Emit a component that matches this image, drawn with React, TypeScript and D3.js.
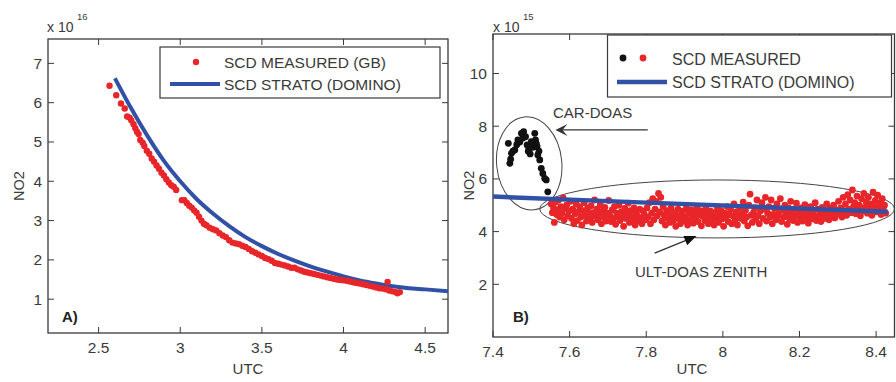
import React from "react";
import * as d3 from "d3";

// ---------- Panel A data (NO2 x 1e16 vs UTC) ----------
const measuredA: [number, number][] = [
  [2.567, 6.43], [2.608, 6.19], [2.637, 5.98], [2.66, 5.85], [2.675, 5.65], [2.69, 5.62], [2.7, 5.55],
  [2.714, 5.45], [2.725, 5.35], [2.735, 5.26], [2.745, 5.2], [2.755, 5.05], [2.77, 4.98], [2.78, 4.9],
  [2.795, 4.78], [2.81, 4.7], [2.825, 4.58], [2.84, 4.5], [2.855, 4.4], [2.87, 4.32], [2.885, 4.22],
  [2.9, 4.15], [2.915, 4.05], [2.93, 3.97], [2.945, 3.9], [2.96, 3.86], [2.975, 3.78], [3.01, 3.52],
  [3.025, 3.52], [3.04, 3.45], [3.055, 3.38], [3.07, 3.33], [3.085, 3.26], [3.1, 3.2], [3.115, 3.1],
  [3.13, 3.0], [3.145, 2.92], [3.16, 2.88], [3.18, 2.82], [3.2, 2.78], [3.22, 2.75], [3.24, 2.68],
  [3.26, 2.62], [3.28, 2.58], [3.3, 2.5], [3.32, 2.44], [3.34, 2.42], [3.36, 2.4], [3.38, 2.36],
  [3.4, 2.33], [3.42, 2.28], [3.44, 2.22], [3.46, 2.18], [3.48, 2.14], [3.5, 2.1], [3.52, 2.05],
  [3.54, 2.02], [3.56, 1.98], [3.58, 1.92], [3.6, 1.9], [3.62, 1.88], [3.64, 1.86], [3.66, 1.83],
  [3.68, 1.8], [3.7, 1.8], [3.72, 1.76], [3.74, 1.73], [3.76, 1.7], [3.78, 1.68], [3.8, 1.66],
  [3.82, 1.64], [3.84, 1.62], [3.86, 1.6], [3.88, 1.58], [3.9, 1.56], [3.92, 1.54], [3.94, 1.52],
  [3.96, 1.5], [3.98, 1.49], [4.0, 1.48], [4.02, 1.47], [4.04, 1.45], [4.06, 1.43], [4.08, 1.41],
  [4.1, 1.4], [4.12, 1.38], [4.14, 1.36], [4.16, 1.34], [4.18, 1.32], [4.2, 1.3], [4.22, 1.28],
  [4.24, 1.27], [4.26, 1.25], [4.27, 1.44], [4.28, 1.22], [4.3, 1.2], [4.32, 1.18], [4.33, 1.15],
  [4.345, 1.18],
];
const stratoA: [number, number][] = [
  [2.6, 6.62], [2.7, 5.85], [2.8, 5.15], [2.9, 4.52], [3.0, 4.0], [3.1, 3.55], [3.2, 3.18],
  [3.3, 2.86], [3.4, 2.58], [3.5, 2.35], [3.6, 2.15], [3.7, 1.98], [3.8, 1.83], [3.9, 1.7],
  [4.0, 1.58], [4.1, 1.48], [4.2, 1.4], [4.3, 1.33], [4.4, 1.28], [4.5, 1.25], [4.64, 1.2],
];
const xTicksA = [2.5, 3, 3.5, 4, 4.5];
const yTicksA = [1, 2, 3, 4, 5, 6, 7];

// ---------- Panel B data (NO2 x 1e15 vs UTC) ----------
const carDoasB: [number, number][] = [
  [7.44, 7.35], [7.444, 6.59], [7.446, 6.75], [7.448, 6.97], [7.452, 7.05], [7.457, 7.1], [7.462, 7.3],
  [7.465, 7.48], [7.47, 7.4], [7.474, 7.73], [7.478, 7.55], [7.48, 7.79], [7.485, 7.6], [7.489, 7.29],
  [7.492, 7.05], [7.494, 7.16], [7.497, 6.95], [7.5, 7.41], [7.504, 7.2], [7.509, 7.73], [7.511, 7.48],
  [7.513, 7.35], [7.515, 7.22], [7.517, 6.91], [7.52, 7.05], [7.522, 6.72], [7.526, 6.4], [7.53, 6.21],
  [7.535, 6.02], [7.539, 5.96], [7.543, 5.51],
];
const ultDoasB: [number, number][] = [
  [7.552, 5.05], [7.555, 4.72], [7.558, 4.9], [7.56, 4.35], [7.563, 5.12], [7.566, 4.65], [7.568, 4.82],
  [7.571, 5.2], [7.574, 4.55], [7.577, 4.95], [7.58, 4.7], [7.583, 5.28], [7.586, 4.45], [7.589, 4.88],
  [7.592, 5.0], [7.595, 4.6], [7.598, 4.78],
  [7.602, 5.15], [7.605, 4.5], [7.608, 4.85], [7.611, 4.3], [7.614, 4.68], [7.617, 5.05], [7.62, 4.42],
  [7.623, 4.75], [7.626, 4.95], [7.629, 4.55], [7.632, 4.25], [7.635, 4.8], [7.638, 5.1], [7.641, 4.62],
  [7.644, 4.4], [7.647, 4.9], [7.65, 4.7], [7.653, 4.5], [7.656, 4.98], [7.659, 4.35], [7.662, 4.72],
  [7.665, 5.2], [7.668, 4.58], [7.671, 4.85], [7.674, 4.45], [7.677, 4.66], [7.68, 5.02], [7.683, 4.3],
  [7.686, 4.78], [7.689, 4.55], [7.692, 4.92], [7.695, 4.4], [7.698, 4.7],
  [7.702, 5.18], [7.705, 4.6], [7.708, 4.38], [7.711, 4.82], [7.714, 4.5], [7.717, 4.95], [7.72, 4.28],
  [7.723, 4.7], [7.726, 4.55], [7.729, 5.0], [7.732, 4.42], [7.735, 4.75], [7.738, 4.62], [7.741, 4.2],
  [7.744, 4.88], [7.747, 4.5], [7.75, 4.68], [7.753, 5.08], [7.756, 4.35], [7.759, 4.8], [7.762, 4.58],
  [7.765, 4.45], [7.768, 4.9], [7.771, 4.25], [7.774, 4.72], [7.777, 4.6], [7.78, 4.4], [7.783, 4.85],
  [7.786, 4.52], [7.789, 4.3], [7.792, 4.78], [7.795, 4.65], [7.798, 4.45],
  [7.802, 4.9], [7.805, 4.55], [7.808, 5.1], [7.811, 4.3], [7.814, 4.7], [7.817, 5.25], [7.82, 4.45],
  [7.823, 4.85], [7.826, 5.15], [7.829, 4.6], [7.832, 5.45], [7.835, 4.75], [7.838, 5.3], [7.841, 4.4],
  [7.844, 4.95], [7.847, 4.62], [7.85, 4.25], [7.853, 4.8], [7.856, 4.5], [7.859, 4.68], [7.862, 4.35],
  [7.865, 4.9], [7.868, 4.55], [7.871, 4.42], [7.874, 4.72], [7.877, 4.2], [7.88, 4.6], [7.883, 4.85],
  [7.886, 4.48], [7.889, 4.3], [7.892, 4.66], [7.895, 4.78], [7.898, 4.4],
  [7.902, 4.55], [7.905, 4.9], [7.908, 4.25], [7.911, 4.7], [7.914, 4.45], [7.917, 4.82], [7.92, 4.6],
  [7.923, 4.32], [7.926, 4.75], [7.929, 4.5], [7.932, 4.95], [7.935, 4.38], [7.938, 4.65], [7.941, 4.8],
  [7.944, 4.22], [7.947, 4.58], [7.95, 4.7], [7.953, 4.42], [7.956, 4.88], [7.959, 4.52], [7.962, 4.3],
  [7.965, 4.68], [7.968, 4.78], [7.971, 4.45], [7.974, 4.6], [7.977, 4.25], [7.98, 4.72], [7.983, 4.5],
  [7.986, 4.9], [7.989, 4.35], [7.992, 4.62], [7.995, 4.8], [7.998, 4.48],
  [8.002, 4.2], [8.005, 4.7], [8.008, 4.55], [8.011, 4.95], [8.014, 4.38], [8.017, 4.65], [8.02, 4.85],
  [8.023, 4.3], [8.026, 4.6], [8.029, 5.05], [8.032, 4.45], [8.035, 4.75], [8.038, 4.25], [8.041, 4.58],
  [8.044, 4.9], [8.047, 4.5], [8.05, 4.68], [8.053, 5.12], [8.056, 4.4], [8.059, 4.8], [8.062, 4.55],
  [8.065, 4.22], [8.068, 5.0], [8.071, 5.42], [8.074, 4.62], [8.077, 4.35], [8.08, 4.72], [8.083, 4.9],
  [8.086, 4.48], [8.089, 5.2], [8.092, 4.6], [8.095, 4.3], [8.098, 4.78],
  [8.102, 5.1], [8.105, 4.5], [8.108, 4.85], [8.111, 5.3], [8.114, 4.4], [8.117, 4.7], [8.12, 4.95],
  [8.123, 4.55], [8.126, 5.2], [8.129, 4.3], [8.132, 4.65], [8.135, 4.88], [8.138, 4.45], [8.141, 5.05],
  [8.144, 4.6], [8.147, 4.75], [8.15, 5.25], [8.153, 4.38], [8.156, 4.82], [8.159, 4.55], [8.162, 5.0],
  [8.165, 4.68], [8.168, 4.28], [8.171, 4.9], [8.174, 4.5], [8.177, 5.15], [8.18, 4.72], [8.183, 4.42],
  [8.186, 4.85], [8.189, 4.6], [8.192, 5.08], [8.195, 4.35], [8.198, 4.78],
  [8.202, 4.55], [8.205, 4.9], [8.208, 4.4], [8.211, 4.7], [8.214, 5.02], [8.217, 4.5], [8.22, 4.82],
  [8.223, 4.32], [8.226, 4.65], [8.229, 4.95], [8.232, 4.48], [8.235, 4.75], [8.238, 4.6], [8.241, 5.1],
  [8.244, 4.42], [8.247, 4.85], [8.25, 4.55], [8.253, 4.7], [8.256, 4.38], [8.259, 4.92], [8.262, 4.62],
  [8.265, 4.8], [8.268, 4.5], [8.271, 5.05], [8.274, 4.68], [8.277, 4.45], [8.28, 4.88], [8.283, 4.58],
  [8.286, 4.75], [8.289, 5.0], [8.292, 4.52], [8.295, 4.82], [8.298, 4.65],
  [8.302, 5.15], [8.305, 4.7], [8.308, 4.9], [8.311, 4.55], [8.314, 5.3], [8.317, 4.8], [8.32, 5.05],
  [8.323, 4.62], [8.326, 5.4], [8.329, 4.85], [8.332, 5.2], [8.335, 4.72], [8.338, 5.58], [8.341, 4.95],
  [8.344, 5.1], [8.347, 4.68], [8.35, 5.35], [8.353, 4.88], [8.356, 5.0], [8.359, 4.6], [8.362, 5.25],
  [8.365, 4.78], [8.368, 5.45], [8.371, 4.92], [8.374, 5.12], [8.377, 4.7], [8.38, 5.3], [8.383, 4.85],
  [8.386, 5.05], [8.389, 4.62], [8.392, 5.5], [8.395, 4.95], [8.398, 5.18], [8.401, 4.75], [8.404, 5.38],
  [8.407, 4.9], [8.41, 5.08], [8.413, 4.65], [8.416, 5.25], [8.419, 4.82], [8.422, 5.0], [8.425, 4.7],
];
const stratoB: [number, number][] = [[7.4, 5.33], [7.8, 5.1], [8.2, 4.88], [8.43, 4.75]];
const xTicksB = [7.4, 7.6, 7.8, 8, 8.2, 8.4];
const yTicksB = [2, 4, 6, 8, 10];

// annotation shapes (data coordinates)
const carEllipse = { cx: 7.4945, cy: 6.59, rx: 0.085, ry: 1.77 };
const ultEllipse = { cx: 7.985, cy: 4.86, rx: 0.463, ry: 1.1 };

const RED = "#e8262a";
const BLUE = "#3151a6";
const AX = "#3a3a3a";
const TXT = "#3a3a3a";
const FONT = "Arial, 'Liberation Sans', sans-serif";

type Box = { l: number; t: number; r: number; b: number };

function Frame({ box, x, y, xt, yt, fmtX }: { box: Box; x: any; y: any; xt: number[]; yt: number[]; fmtX: (v: number) => string }) {
  const tl = 6;
  return (
    <g>
      <rect x={box.l} y={box.t} width={box.r - box.l} height={box.b - box.t} fill="none" stroke={AX} strokeWidth={1.3} />
      {xt.map((v) => (
        <g key={"x" + v}>
          <line x1={x(v)} x2={x(v)} y1={box.b} y2={box.b - tl} stroke={AX} />
          <line x1={x(v)} x2={x(v)} y1={box.t} y2={box.t + tl} stroke={AX} />
          <text x={x(v)} y={box.b + 20} textAnchor="middle" fontSize={15.5} fill={TXT}>{fmtX(v)}</text>
        </g>
      ))}
      {yt.map((v) => (
        <g key={"y" + v}>
          <line x1={box.l} x2={box.l + tl} y1={y(v)} y2={y(v)} stroke={AX} />
          <line x1={box.r} x2={box.r - tl} y1={y(v)} y2={y(v)} stroke={AX} />
          <text x={box.l - 6} y={y(v) + 5.5} textAnchor="end" fontSize={15.5} fill={TXT}>{v}</text>
        </g>
      ))}
    </g>
  );
}

export default function App() {
  // Panel A
  const boxA: Box = { l: 48, t: 39, r: 448, b: 333 };
  const xA = d3.scaleLinear().domain([2.19, 4.64]).range([boxA.l, boxA.r]);
  const yA = d3.scaleLinear().domain([0.14, 7.62]).range([boxA.b, boxA.t]);
  const lineA = d3.line<[number, number]>().x((d) => xA(d[0])).y((d) => yA(d[1])).curve(d3.curveMonotoneX);

  // Panel B
  const boxB: Box = { l: 493, t: 34, r: 894.5, b: 337 };
  const xB = d3.scaleLinear().domain([7.4, 8.448]).range([boxB.l, boxB.r]);
  const yB = d3.scaleLinear().domain([0, 11.5]).range([boxB.b, boxB.t]);
  const lineB = d3.line<[number, number]>().x((d) => xB(d[0])).y((d) => yB(d[1]));

  const ell = (e: { cx: number; cy: number; rx: number; ry: number }) => ({
    cx: xB(e.cx),
    cy: yB(e.cy),
    rx: xB(e.cx + e.rx) - xB(e.cx),
    ry: yB(e.cy) - yB(e.cy + e.ry),
  });
  const ce = ell(carEllipse);
  const ue = ell(ultEllipse);

  // arrows
  const carTip = [xB(7.563), yB(7.86)];
  const carTail = [xB(7.804), yB(7.86)];
  const ultTail = [xB(7.822), yB(3.18)];
  const ultTip = [xB(7.931), yB(3.83)];
  const ang = Math.atan2(ultTip[1] - ultTail[1], ultTip[0] - ultTail[0]);
  const ah = 12, aw = 5;
  const ultHead = [
    [ultTip[0], ultTip[1]],
    [ultTip[0] - ah * Math.cos(ang) + aw * Math.sin(ang), ultTip[1] - ah * Math.sin(ang) - aw * Math.cos(ang)],
    [ultTip[0] - ah * Math.cos(ang) - aw * Math.sin(ang), ultTip[1] - ah * Math.sin(ang) + aw * Math.cos(ang)],
  ];

  return (
    <svg width={896} height={382} style={{ position: "absolute", left: 0, top: 0, background: "#fff" }} fontFamily={FONT}>
      <rect x={0} y={0} width={896} height={382} fill="#fff" />
      {/* ---------- Panel A ---------- */}
      <Frame box={boxA} x={xA} y={yA} xt={xTicksA} yt={yTicksA} fmtX={(v) => String(v)} />
      <path d={lineA(stratoA) || ""} fill="none" stroke={BLUE} strokeWidth={4} />
      {measuredA.map((d, i) => (
        <circle key={i} cx={xA(d[0])} cy={yA(d[1])} r={3.2} fill={RED} />
      ))}
      <text x={47} y={32} fontSize={14} fill={TXT}>x 10</text>
      <text x={77} y={20} fontSize={9.5} fill={TXT}>16</text>
      <text transform={`translate(24,${(boxA.t + boxA.b) / 2}) rotate(-90)`} textAnchor="middle" fontSize={14.5} fill={TXT}>NO2</text>
      <text x={(boxA.l + boxA.r) / 2} y={374} textAnchor="middle" fontSize={15} fill={TXT}>UTC</text>
      <text x={62} y={322} fontSize={15} fontWeight="bold" fill="#222">A)</text>
      {/* legend A */}
      <rect x={160} y={47} width={280} height={51} fill="#fff" stroke={AX} strokeWidth={1.2} />
      <circle cx={196} cy={62} r={3.2} fill={RED} />
      <line x1={170} x2={220} y1={84} y2={84} stroke={BLUE} strokeWidth={4} />
      <text x={224} y={68} fontSize={15.5} fill={TXT}>SCD MEASURED (GB)</text>
      <text x={224} y={90} fontSize={15.5} fill={TXT}>SCD STRATO (DOMINO)</text>

      {/* ---------- Panel B ---------- */}
      <Frame box={boxB} x={xB} y={yB} xt={xTicksB} yt={yTicksB} fmtX={(v) => String(v)} />
      <ellipse cx={ce.cx} cy={ce.cy} rx={ce.rx} ry={ce.ry} fill="none" stroke="#444" strokeWidth={1} transform={`rotate(-6 ${ce.cx} ${ce.cy})`} />
      <ellipse cx={ue.cx} cy={ue.cy} rx={ue.rx} ry={ue.ry} fill="none" stroke="#444" strokeWidth={1} />
      {ultDoasB.map((d, i) => (
        <circle key={"u" + i} cx={xB(d[0])} cy={yB(d[1])} r={3.4} fill={RED} />
      ))}
      <path d={lineB(stratoB) || ""} fill="none" stroke={BLUE} strokeWidth={4.5} />
      {carDoasB.map((d, i) => (
        <circle key={"c" + i} cx={xB(d[0])} cy={yB(d[1])} r={3.4} fill="#111" />
      ))}
      <text x={493} y={32} fontSize={14} fill={TXT}>x 10</text>
      <text x={523} y={20} fontSize={9.5} fill={TXT}>15</text>
      <text transform={`translate(474,${(boxB.t + boxB.b) / 2}) rotate(-90)`} textAnchor="middle" fontSize={14.5} fill={TXT}>NO2</text>
      <text x={692} y={374} textAnchor="middle" fontSize={15} fill={TXT}>UTC</text>
      <text x={513} y={322} fontSize={15} fontWeight="bold" fill="#222">B)</text>
      {/* annotations */}
      <text x={553} y={118} fontSize={15} fill={TXT}>CAR-DOAS</text>
      <line x1={carTail[0]} x2={carTip[0] + 2} y1={carTail[1]} y2={carTip[1]} stroke="#333" strokeWidth={1.3} />
      <path d={`M${carTip[0]},${carTip[1]} L${carTip[0] + 12},${carTip[1] - 6} L${carTip[0] + 7},${carTip[1]} L${carTip[0] + 12},${carTip[1] + 6} Z`} fill="#333" />
      <line x1={ultTail[0]} y1={ultTail[1]} x2={ultTip[0] - 6 * Math.cos(ang)} y2={ultTip[1] - 6 * Math.sin(ang)} stroke="#333" strokeWidth={1.3} />
      <path d={`M${ultHead.map((p) => p.join(",")).join(" L")} Z`} fill="#111" />
      <text x={635} y={277} fontSize={15} fill={TXT}>ULT-DOAS ZENITH</text>
      {/* legend B */}
      <rect x={607.5} y={35} width={284} height={62} fill="#fff" stroke={AX} strokeWidth={1.2} />
      <circle cx={623} cy={58} r={3.4} fill="#111" />
      <circle cx={643} cy={58} r={3.4} fill={RED} />
      <line x1={617} x2={667} y1={82} y2={82} stroke={BLUE} strokeWidth={4.5} />
      <text x={672} y={65} fontSize={16} fill={TXT}>SCD MEASURED</text>
      <text x={672} y={88} fontSize={16} fill={TXT}>SCD STRATO (DOMINO)</text>
    </svg>
  );
}
